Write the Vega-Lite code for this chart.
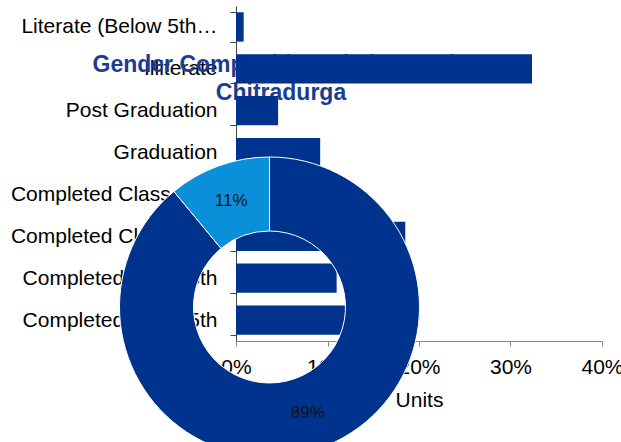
{
  "$schema": "https://vega.github.io/schema/vega-lite/v6.json",
  "width": 366,
  "height": 335,
  "autosize": {"type": "none"},
  "padding": {"left": 236, "top": 6, "right": 19, "bottom": 101},
  "config": {
    "view": {"stroke": null},
    "font": "Liberation Sans",
    "axis": {"labelFont": "Liberation Sans", "titleFont": "Liberation Sans"},
    "axisX": {"format": ".0%", "tickCount": 4, "labelFontSize": 21, "titleFontSize": 21, "titleFontWeight": "normal", "labelColor": "#000", "titleColor": "#000", "domainColor": "#888", "tickColor": "#888", "tickSize": 5, "labelPadding": 10, "titlePadding": 12, "grid": false, "labelFlush": false}
  },
  "datasets": {
    "education": [
      {"level": "Literate (Below 5th Class)", "pct": 0.0084},
      {"level": "Illiterate", "pct": 0.3235},
      {"level": "Post Graduation", "pct": 0.046},
      {"level": "Graduation", "pct": 0.092},
      {"level": "Completed Class 12th", "pct": 0.105},
      {"level": "Completed Class 10th", "pct": 0.185},
      {"level": "Completed Class 8th", "pct": 0.11},
      {"level": "Completed Class 5th", "pct": 0.13}
    ],
    "donut": [
      {"group": "Male", "share": 0.89},
      {"group": "Female", "share": 0.11}
    ],
    "heading": [
      {"text": "Gender Composition of Literacy in\nChitradurga"}
    ]
  },
  "layer": [
    {
      "data": {"name": "heading"},
      "mark": {"type": "text", "lineBreak": "\n", "fontSize": 23, "fontWeight": "bold", "color": "#1B3C95", "align": "center", "baseline": "alphabetic", "lineHeight": 28},
      "encoding": {
        "text": {"field": "text"},
        "x": {"datum": 0.0492, "type": "quantitative", "scale": {"domain": [0, 0.4]}, "title": "Units"},
        "y": {"datum": 0.803, "type": "quantitative", "scale": {"domain": [0, 1]}, "axis": null}
      }
    },
    {
      "data": {"name": "education"},
      "mark": {"type": "bar", "color": "#00338E"},
      "encoding": {
        "y": {
          "field": "level", "type": "nominal", "sort": null,
          "scale": {"paddingInner": 0.3, "paddingOuter": 0.15},
          "axis": {"title": null, "labelFontSize": 21, "labelColor": "#000", "labelExpr": "truncate(datum.label, 20)", "labelLimit": 300, "tickBand": "extent", "tickSize": 6, "labelPadding": 13, "domainColor": "#444", "tickColor": "#444"}
        },
        "x": {"field": "pct", "type": "quantitative", "scale": {"domain": [0, 0.4]}, "title": "Units"}
      }
    },
    {
      "data": {"name": "donut"},
      "encoding": {
        "theta": {"field": "share", "type": "quantitative", "stack": true},
        "order": {"field": "share", "sort": "descending"},
        "detail": {"field": "group"},
        "x": {"datum": 0.0366, "type": "quantitative", "scale": {"domain": [0, 0.4]}, "title": "Units"},
        "y": {"datum": 0.1015, "type": "quantitative", "scale": {"domain": [0, 1]}, "axis": null}
      },
      "layer": [
        {
          "mark": {"type": "arc", "innerRadius": 76, "outerRadius": 150, "stroke": "#fff", "strokeWidth": 1},
          "encoding": {
            "color": {"field": "group", "type": "nominal", "scale": {"domain": ["Male", "Female"], "range": ["#00338E", "#0A90D8"]}, "legend": null}
          }
        },
        {
          "mark": {"type": "text", "radius": 113, "fontSize": 17, "color": "#111"},
          "encoding": {"text": {"field": "share", "format": ".0%"}}
        }
      ]
    }
  ],
  "resolve": {"scale": {"y": "independent"}}
}
